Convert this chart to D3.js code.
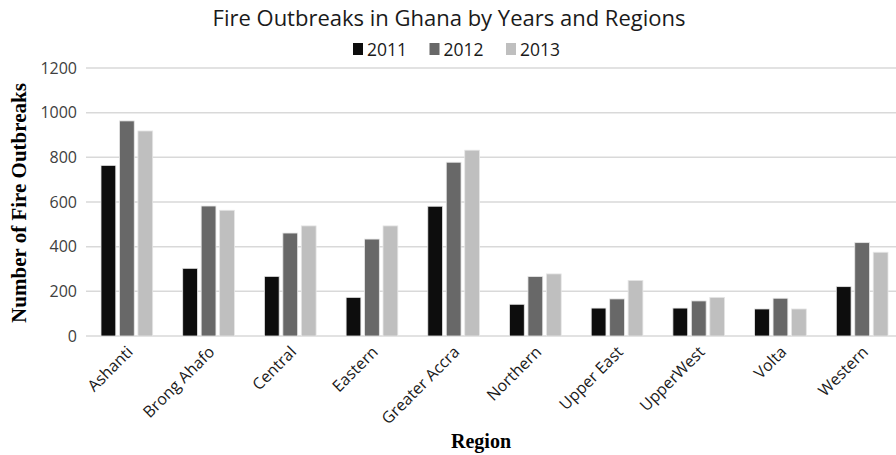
<!DOCTYPE html>
<html>
<head>
<meta charset="utf-8">
<script src="https://cdn.jsdelivr.net/npm/d3@7"></script>
<style>
  body { margin: 0; background: #fff; }
  svg { display: block; }
</style>
</head>
<body>
<div id="chart"></div>
<script>
const regions = ["Ashanti", "Brong Ahafo", "Central", "Eastern", "Greater Accra",
                 "Northern", "Upper East", "UpperWest", "Volta", "Western"];
const years = ["2011", "2012", "2013"];
const values2011 = [764, 303, 267, 173, 581, 142, 125, 125, 121, 221];
const values2012 = [963, 582, 461, 434, 778, 266, 166, 157, 169, 418];
const values2013 = [918, 563, 493, 493, 832, 278, 249, 173, 121, 375];
const yTicks = [0, 200, 400, 600, 800, 1000, 1200];
const colors = ["#0d0d0d", "#686868", "#bfbfbf"];

const W = 896, H = 455;
const margin = { left: 86, right: -7, top: 68, bottom: 119 };

const svg = d3.select("#chart")
  .append("svg")
  .attr("width", W)
  .attr("height", H)
  .style("background", "#fff");

const x = d3.scaleBand()
  .domain(regions)
  .range([margin.left, W - margin.right])
  .paddingInner(0)
  .paddingOuter(0);

// bars inside one region
const xYear = d3.scaleBand()
  .domain(years)
  .range([15, x.bandwidth() - 15])
  .paddingInner(0.2);

const y = d3.scaleLinear()
  .domain([0, 1200])
  .range([H - margin.bottom, margin.top]);

// gridlines
svg.append("g")
  .selectAll("line")
  .data(yTicks)
  .enter()
  .append("line")
  .attr("x1", margin.left)
  .attr("x2", W)
  .attr("y1", d => y(d))
  .attr("y2", d => y(d))
  .style("stroke", "#d9d9d9")
  .style("stroke-width", 1.5);

// y tick labels
const yAxis = svg.append("g")
  .attr("transform", `translate(${margin.left},0)`)
  .call(d3.axisLeft(y).tickValues(yTicks).tickFormat(d3.format("d")).tickSize(0).tickPadding(9));
yAxis.select(".domain").remove();
yAxis.selectAll("text")
  .style("font-family", "'Open Sans', sans-serif")
  .style("font-size", "16px")
  .style("fill", "#404040");

// bars
const series = [values2011, values2012, values2013];
const rows = [];
regions.forEach((r, i) => {
  years.forEach((yr, j) => rows.push({ region: r, year: yr, value: series[j][i], k: j }));
});

svg.append("g")
  .selectAll("rect")
  .data(rows)
  .enter()
  .append("rect")
  .attr("x", d => x(d.region) + xYear(d.year))
  .attr("y", d => y(d.value))
  .attr("width", xYear.bandwidth())
  .attr("height", d => y(0) - y(d.value))
  .style("fill", d => colors[d.k])
  .style("stroke", "#e6e6e6")
  .style("stroke-width", 0.8);

// x labels
const xAxis = svg.append("g")
  .attr("transform", `translate(0,${y(0)})`)
  .call(d3.axisBottom(x).tickSize(0).tickPadding(0));
xAxis.select(".domain").remove();
xAxis.selectAll("text")
  .attr("text-anchor", "end")
  .attr("dy", 0)
  .attr("transform", "translate(7,17) rotate(-45)")
  .style("font-family", "'Open Sans', sans-serif")
  .style("font-size", "16px")
  .style("fill", "#1a1a1a");

// title
svg.append("text")
  .attr("x", 449)
  .attr("y", 26)
  .attr("text-anchor", "middle")
  .style("font-family", "'Open Sans', sans-serif")
  .style("font-size", "22px")
  .style("fill", "#1a1a1a")
  .text("Fire Outbreaks in Ghana by Years and Regions");

// legend
const legendX = d3.scalePoint().domain(years).range([353, 506]);
const legend = svg.append("g");
years.forEach((yr, j) => {
  legend.append("rect")
    .attr("x", legendX(yr))
    .attr("y", 43)
    .attr("width", 10)
    .attr("height", 12)
    .style("fill", colors[j]);
  legend.append("text")
    .attr("x", legendX(yr) + 14)
    .attr("y", 56)
    .style("font-family", "'Open Sans', sans-serif")
    .style("font-size", "17.5px")
    .style("fill", "#1a1a1a")
    .text(yr);
});

// axis titles
svg.append("text")
  .attr("transform", "translate(26,203) rotate(-90)")
  .attr("text-anchor", "middle")
  .style("font-family", "'Liberation Serif', serif")
  .style("font-weight", "bold")
  .style("font-size", "21px")
  .text("Number of Fire Outbreaks");

svg.append("text")
  .attr("x", 481)
  .attr("y", 448)
  .attr("text-anchor", "middle")
  .style("font-family", "'Liberation Serif', serif")
  .style("font-weight", "bold")
  .style("font-size", "20px")
  .text("Region");
</script>
</body>
</html>
